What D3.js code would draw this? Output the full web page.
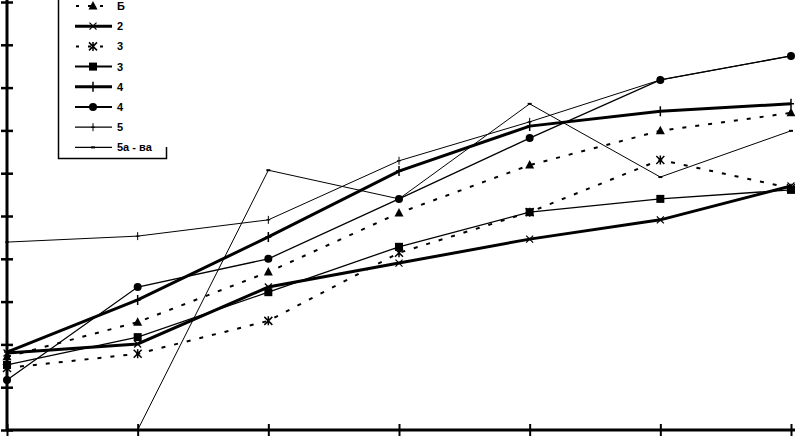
<!DOCTYPE html>
<html>
<head>
<meta charset="utf-8">
<script src="https://cdn.jsdelivr.net/npm/d3@7"></script>
<style>
  html, body { margin: 0; padding: 0; background: #fff; }
  svg { display: block; }
  .legend text { font-family: Arial, "Liberation Sans", sans-serif; font-size: 11px; font-weight: bold; }
</style>
</head>
<body>
<svg width="795" height="437"></svg>
<script>
// x categories (no labels drawn on the original)
const categories = ["1", "2", "3", "4", "5", "6", "7"];
const yTicks = [0, 1, 2, 3, 4, 5, 6, 7, 8, 9, 10];

// series values
const seriesB = [1.71, 2.52, 3.69, 5.07, 6.19, 6.99, 7.41];
const series2 = [1.80, 2.01, 3.34, 3.90, 4.46, 4.91, 5.70];
const series3a = [1.45, 1.78, 2.55, 4.14, 5.09, 6.31, 5.65];
const series3b = [1.52, 2.17, 3.22, 4.28, 5.09, 5.40, 5.61];
const series4a = [1.82, 3.04, 4.51, 6.05, 7.10, 7.45, 7.62];
const series4b = [1.17, 3.34, 4.00, 5.40, 6.82, 8.18, 8.74];
const series5 = [4.39, 4.53, 4.91, 6.29, 7.20, 8.18, 8.74];
const series5a = [0, 0, 6.07, 5.40, 7.62, 5.91, 6.99];

const legendNames = ["Б", "2", "3", "3", "4", "4", "5", "5а - ва"];

const series = [
  { name: legendNames[0], values: seriesB, width: 2, dash: "4,9", marker: "triangle" },
  { name: legendNames[1], values: series2, width: 3, dash: null, marker: "x" },
  { name: legendNames[2], values: series3a, width: 2, dash: "4,9", marker: "asterisk" },
  { name: legendNames[3], values: series3b, width: 1.3, dash: null, marker: "square" },
  { name: legendNames[4], values: series4a, width: 3, dash: null, marker: "plus" },
  { name: legendNames[5], values: series4b, width: 1.3, dash: null, marker: "circle" },
  { name: legendNames[6], values: series5, width: 1, dash: null, marker: "smallplus" },
  { name: legendNames[7], values: series5a, width: 1, dash: null, marker: "dot" },
];

const svg = d3.select("svg");

const x = d3.scalePoint().domain(categories).range([7, 791]);
const y = d3.scaleLinear().domain([0, 10]).range([430, 2]);

// axes
const yAxis = svg.append("g")
  .attr("transform", "translate(7,0)")
  .call(d3.axisLeft(y).tickValues(yTicks).tickSize(6).tickFormat(""));
const xAxis = svg.append("g")
  .attr("transform", "translate(0,430)")
  .call(d3.axisBottom(x).tickSize(6).tickFormat(""));

yAxis.select(".domain").attr("stroke", "#000").attr("stroke-width", 3).attr("d", "M0,0V430");
yAxis.selectAll(".tick line").attr("stroke", "#000").attr("stroke-width", 2.5).attr("x1", -6).attr("x2", 6);
xAxis.select(".domain").attr("stroke", "#000").attr("stroke-width", 3).attr("d", "M7,0H795");
xAxis.selectAll(".tick line").attr("stroke", "#000").attr("stroke-width", 2).attr("y1", -6).attr("y2", 6);

// marker shapes
const drawMarker = (g, type) => {
  if (type === "triangle") {
    g.append("path").attr("d", "M0,-5L4.5,3.5L-4.5,3.5Z").attr("fill", "#000");
  } else if (type === "square") {
    g.append("rect").attr("x", -4).attr("y", -4).attr("width", 8).attr("height", 8).attr("fill", "#000");
  } else if (type === "circle") {
    g.append("circle").attr("r", 4).attr("fill", "#000");
  } else if (type === "x") {
    g.append("path").attr("d", "M-3.5,-3.5L3.5,3.5M-3.5,3.5L3.5,-3.5").attr("stroke", "#000").attr("stroke-width", 1.2);
  } else if (type === "asterisk") {
    g.append("path").attr("d", "M-4,-4L4,4M-4,4L4,-4M0,-4.5V4.5").attr("stroke", "#000").attr("stroke-width", 1.5);
  } else if (type === "plus") {
    g.append("path").attr("d", "M0,-5V5M-3,0H3").attr("stroke", "#000").attr("stroke-width", 1.5);
  } else if (type === "smallplus") {
    g.append("path").attr("d", "M0,-4V4M-2,0H2").attr("stroke", "#000").attr("stroke-width", 1);
  } else if (type === "dot") {
    g.append("path").attr("d", "M-2,0H2").attr("stroke", "#000").attr("stroke-width", 2);
  }
};

const line = d3.line()
  .x((d, i) => x(categories[i]))
  .y((d) => y(d));

const plot = svg.append("g").attr("class", "plot");

series.forEach((s) => {
  plot.append("path")
    .datum(s.values)
    .attr("fill", "none")
    .attr("stroke", "#000")
    .attr("stroke-width", s.width)
    .attr("stroke-dasharray", s.dash)
    .attr("d", line);

  plot.selectAll(null)
    .data(s.values.filter((v) => v > 0).map((v) => ({ v, i: s.values.indexOf(v) })))
    .join("g")
    .attr("transform", (d) => `translate(${x(categories[d.i])},${y(d.v)})`)
    .each(function () { drawMarker(d3.select(this), s.marker); });
});

// legend
const legend = svg.append("g").attr("class", "legend");
legend.append("rect").attr("x", 58).attr("y", -20).attr("width", 108).attr("height", 178).attr("fill", "#fff");
legend.append("path")
  .attr("d", "M58.5,0V158.5H166.5V147")
  .attr("fill", "none").attr("stroke", "#000").attr("stroke-width", 1.5);

const items = legend.selectAll(".item")
  .data(series)
  .join("g")
  .attr("class", "item")
  .attr("transform", (d, i) => `translate(0,${6 + i * 20.2})`);

items.append("path")
  .attr("d", "M75,0H112")
  .attr("fill", "none")
  .attr("stroke", "#000")
  .attr("stroke-width", (d) => (d.width >= 3 ? 3 : d.width >= 1.3 ? 2 : 1.3))
  .attr("stroke-dasharray", (d) => (d.dash ? "3,9" : null))
  .attr("stroke-dashoffset", -1);

items.append("g")
  .attr("transform", "translate(93,0)")
  .each(function (d) { drawMarker(d3.select(this), d.marker); });

items.append("text")
  .attr("x", 117)
  .attr("y", 4)
  .text((d) => d.name);
</script>
</body>
</html>
